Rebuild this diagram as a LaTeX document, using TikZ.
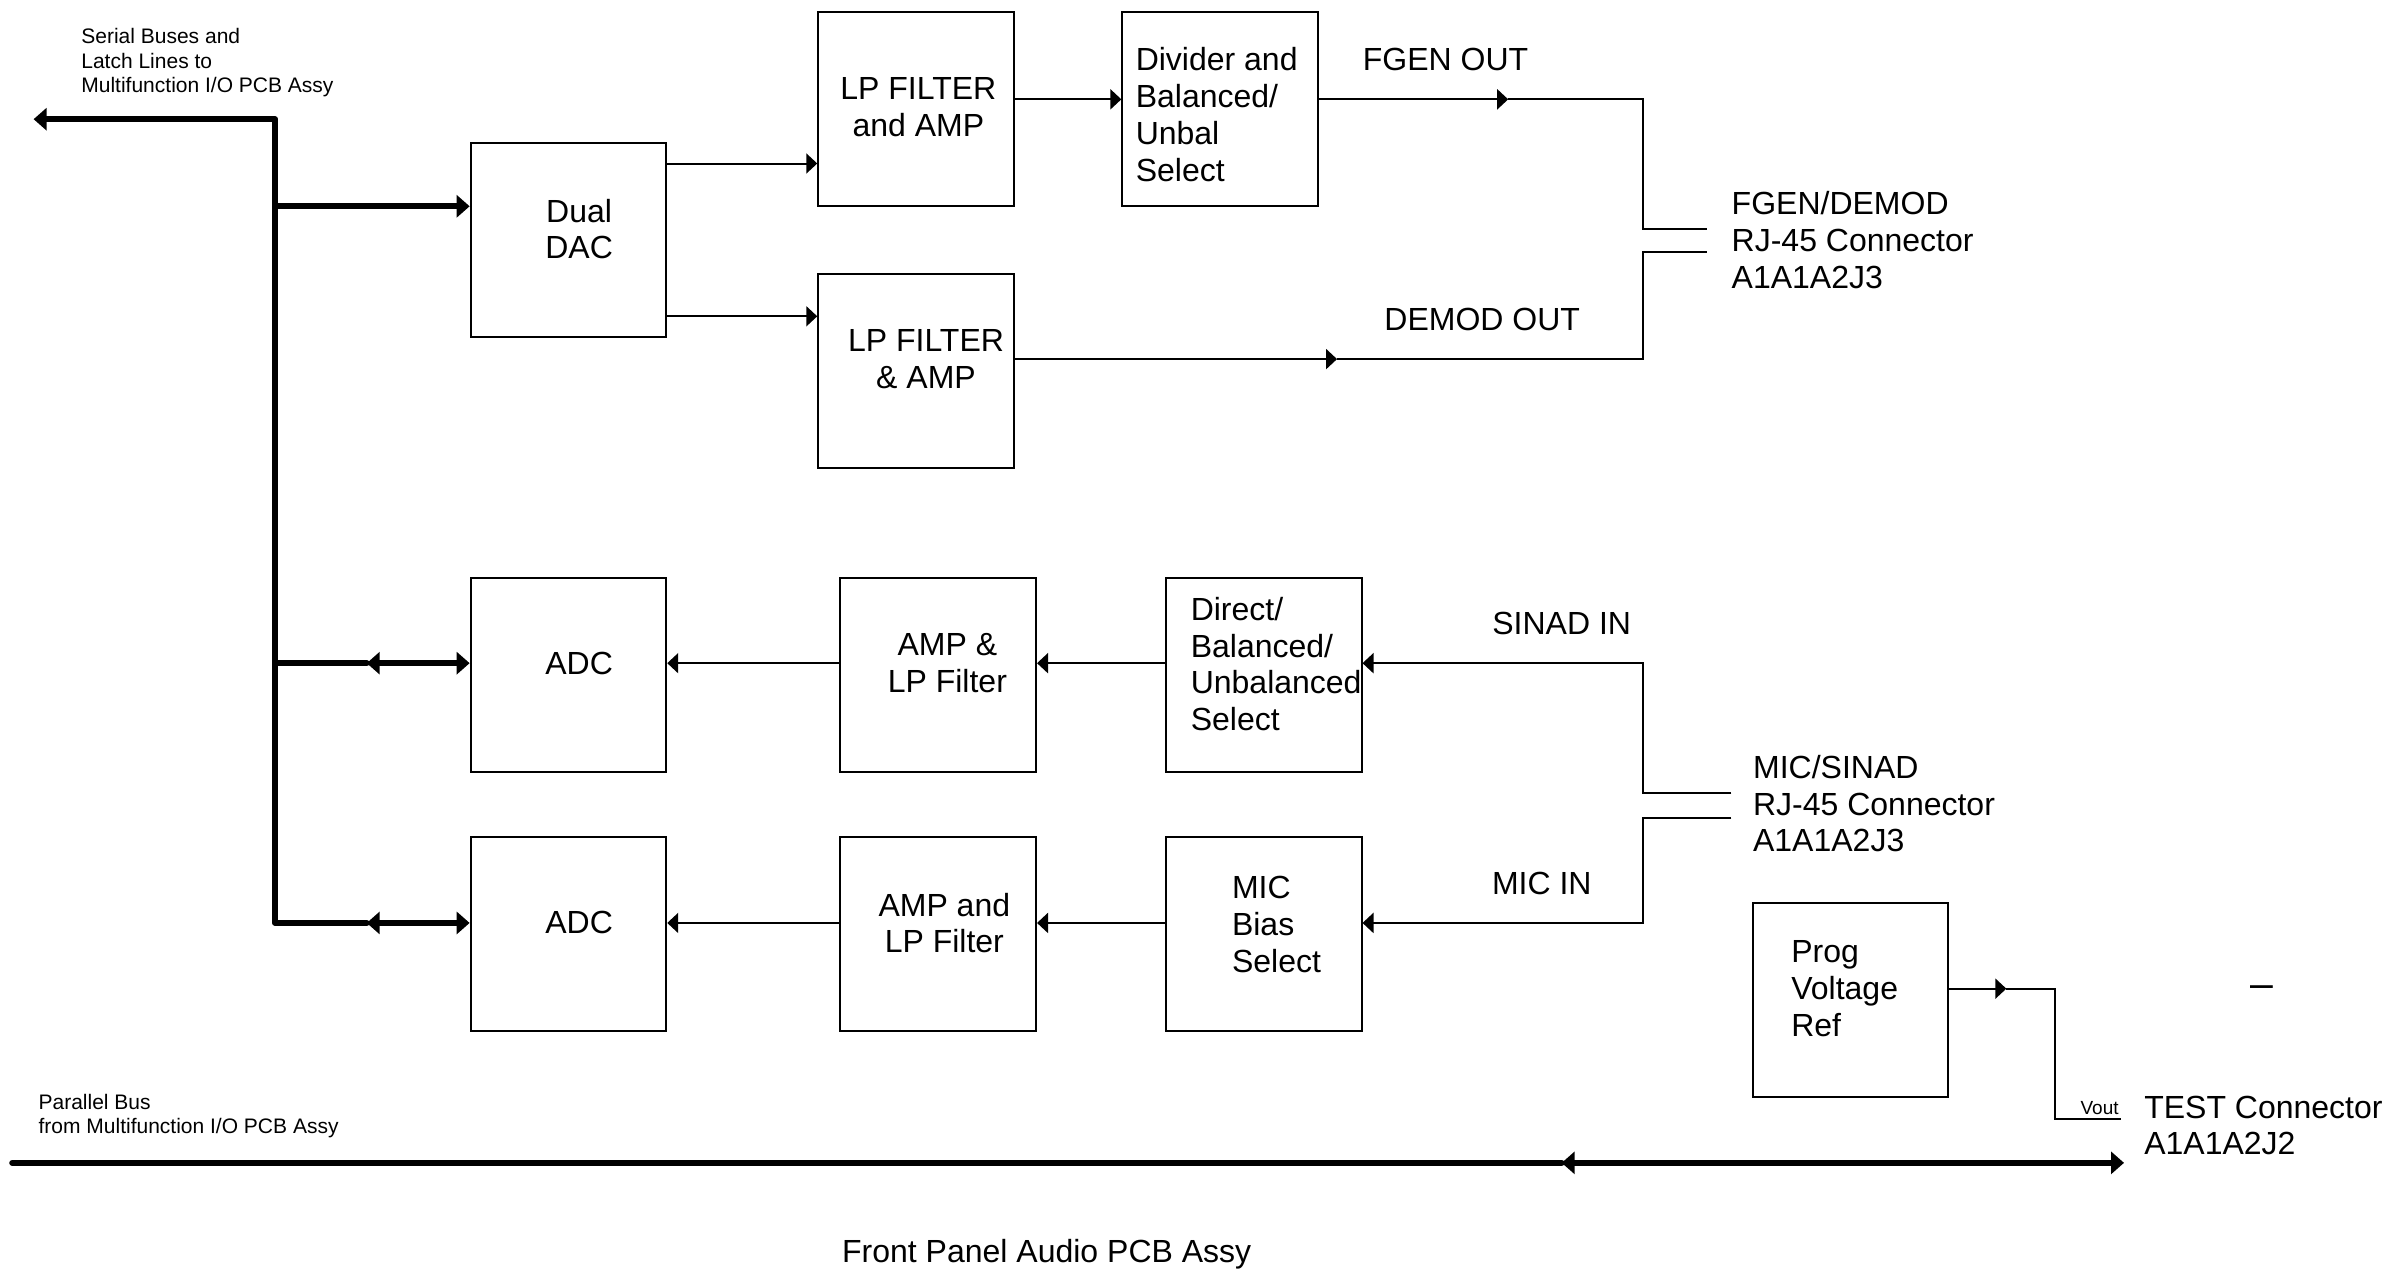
\documentclass[tikz,border=0pt]{standalone}
\usepackage{fontspec}
\setmainfont{Liberation Sans}
\usetikzlibrary{arrows.meta}
\begin{document}
\begin{tikzpicture}[x=0.764pt,y=-0.764pt,
  every node/.style={font=\fontsize{16}{18.35}\selectfont, inner sep=0pt},
  box/.style={draw, line width=1pt, minimum width=97.8pt, minimum height=97pt},
  sig/.style={line width=1pt, -{Triangle[length=5.5pt,width=10pt]}},
  wire/.style={line width=1pt},
  bus/.style={line width=3pt, line join=round, line cap=round},
  busarr/.style={-{Triangle[length=6.5pt,width=11pt]}},
  busboth/.style={{Triangle[length=6.5pt,width=11pt]}-{Triangle[length=6.5pt,width=11pt]}},
  small/.style={font=\fontsize{10.5}{12.2}\selectfont}]
\useasboundingbox (0,0) rectangle (1568,833);

% level coordinates
\coordinate (y65) at (0,65);
\coordinate (y107) at (0,107);
\coordinate (y135) at (0,135);
\coordinate (y207) at (0,207);
\coordinate (y235) at (0,235);
\coordinate (y434) at (0,434);
\coordinate (y604) at (0,604);
\coordinate (y647) at (0,647);

% boxes
\node[box] (dac)  at (372,157) {};
\node[box] (lpf1) at (599.5,71.5) {};
\node[box] (div)  at (798.5,71.5) {};
\node[box] (lpf2) at (599.5,242.5) {};
\node[box] (adc1) at (372,441.5) {};
\node[box] (amp1) at (614,441.5) {};
\node[box] (dir)  at (827,441.5) {};
\node[box] (adc2) at (372,611.5) {};
\node[box] (amp2) at (614,611.5) {};
\node[box] (mic)  at (827,611.5) {};
\node[box] (prog) at (1211,654.5) {};

% box texts
\node[align=center] (dact) at (379,150) {Dual\\DAC};
\node[align=center] (lpf1t) at (601,70) {LP FILTER\\and AMP};
\node[align=left, anchor=west] (divt) at (743,75) {Divider and\\Balanced/\\Unbal\\Select};
\node[align=center] (lpf2t) at (606,235) {LP FILTER\\\& AMP};
\node (adc1t) at (379,434) {ADC};
\node[align=center] (amp1t) at (620,434) {AMP \&\\LP Filter};
\node[align=left, anchor=west] (dirt) at (779,434.5) {Direct/\\Balanced/\\Unbalanced\\Select};
\node (adc2t) at (379,604) {ADC};
\node[align=center] (amp2t) at (618,604) {AMP and\\LP Filter};
\node[align=left, anchor=west] (mict) at (806,605) {MIC\\Bias\\Select};
\node[align=left, anchor=west] (progt) at (1172,647) {Prog\\Voltage\\Ref};

% labels
\node (fgenl) at (946,39) {FGEN OUT};
\node (demodl) at (970,209) {DEMOD OUT};
\node (sinadl) at (1022,408) {SINAD IN};
\node (micl) at (1009,578) {MIC IN};
\node[align=left, anchor=west] (j3a) at (1133,157) {FGEN/DEMOD\\RJ-45 Connector\\A1A1A2J3};
\node[align=left, anchor=west] (j3b) at (1147,526) {MIC/SINAD\\RJ-45 Connector\\A1A1A2J3};
\node[align=left, anchor=west] (j2) at (1403,736.5) {TEST Connector\\A1A1A2J2};
\node[font=\fontsize{9.5}{11}\selectfont] (vout) at (1374,725) {Vout};
\node[font=\fontsize{20.5}{24}\selectfont] (dash) at (1480.5,649) {–};
\node[small, align=left, anchor=west] (serl) at (53,41) {Serial Buses and\\Latch Lines to\\Multifunction I/O PCB Assy};
\node[small, align=left, anchor=west] (parl) at (25,730.5) {Parallel Bus\\from Multifunction I/O PCB Assy};
\node (title) at (685,821) {Front Panel Audio PCB Assy};

% serial bus
\coordinate (tl) at (22,78);
\coordinate (c78) at (180,78);
\coordinate (c135) at (180,135);
\coordinate (c434) at (180,434);
\coordinate (c604) at (180,604);
\coordinate (m3) at (240,434);
\coordinate (m4) at (240,604);
\draw[bus, {Triangle[length=6.5pt,width=11pt]}-] (tl) -- (c78) -- (c604) -- (m4);
\draw[bus, busboth] (m4) -- (adc2.west |- y604);
\draw[bus] (c434) -- (m3);
\draw[bus, busboth] (m3) -- (adc1.west |- y434);
\draw[bus, busarr] (c135) -- (dac.west |- y135);

% DAC outputs
\draw[sig] (dac.east |- y107) -- (lpf1.west |- y107);
\draw[sig] (dac.east |- y207) -- (lpf2.west |- y207);
\draw[sig] (lpf1.east |- y65) -- (div.west |- y65);

% FGEN OUT
\coordinate (fa) at (987,65);
\coordinate (fb) at (1075,65);
\coordinate (fc) at (1075,150);
\coordinate (fd) at (1117,150);
\draw[sig] (div.east |- y65) -- (fa);
\draw[wire] (fa) -- (fb) -- (fc) -- (fd);

% DEMOD OUT
\coordinate (da) at (875,235);
\coordinate (db) at (1075,235);
\coordinate (dc) at (1075,165);
\coordinate (dd) at (1117,165);
\draw[sig] (lpf2.east |- y235) -- (da);
\draw[wire] (da) -- (db) -- (dc) -- (dd);

% SINAD IN
\coordinate (sa) at (1133,519);
\coordinate (sb) at (1075,519);
\coordinate (sc) at (1075,434);
\draw[sig] (sa) -- (sb) -- (sc) -- (dir.east |- y434);
\draw[sig] (dir.west |- y434) -- (amp1.east |- y434);
\draw[sig] (amp1.west |- y434) -- (adc1.east |- y434);

% MIC IN
\coordinate (ma) at (1133,535);
\coordinate (mb) at (1075,535);
\coordinate (mc) at (1075,604);
\draw[sig] (ma) -- (mb) -- (mc) -- (mic.east |- y604);
\draw[sig] (mic.west |- y604) -- (amp2.east |- y604);
\draw[sig] (amp2.west |- y604) -- (adc2.east |- y604);

% Prog voltage ref
\coordinate (pa) at (1313,647);
\coordinate (pb) at (1345,647);
\coordinate (pc) at (1345,732);
\coordinate (pd) at (1388,732);
\draw[sig] (prog.east |- y647) -- (pa);
\draw[wire] (pa) -- (pb) -- (pc) -- (pd);

% parallel bus
\coordinate (pb0) at (8,761);
\coordinate (pbm) at (1022,761);
\coordinate (pbe) at (1390,761);
\draw[bus] (pb0) -- (pbm);
\draw[bus, busboth] (pbm) -- (pbe);
\end{tikzpicture}
\end{document}
